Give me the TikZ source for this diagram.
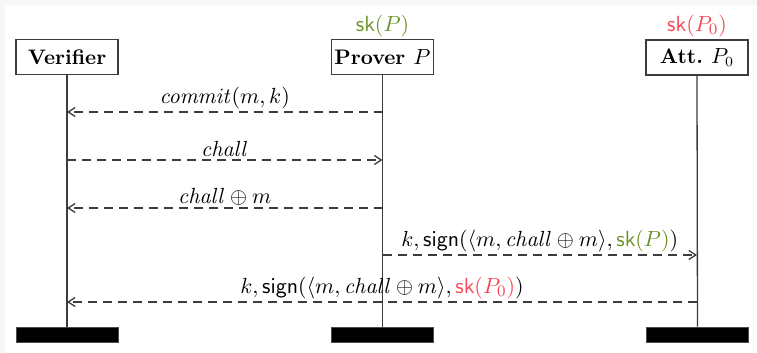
\documentclass[tikz,border=0pt]{standalone}
\usepackage{amsmath}
\usetikzlibrary{arrows.meta}
\definecolor{skgreen}{RGB}{107,146,40}
\definecolor{skred}{RGB}{250,70,85}
\definecolor{linegray}{RGB}{60,60,60}
\begin{document}
\begin{tikzpicture}[x=0.5pt,y=-0.5pt,
  actor/.style={draw=linegray,line width=0.7pt,fill=white,minimum width=51pt,minimum height=17.5pt,inner sep=0pt,font=\fontsize{10.5}{12}\selectfont\bfseries},
  life/.style={draw=linegray,line width=0.65pt},
  endbar/.style={fill=black,draw=black!70,line width=0.3pt,minimum width=51pt,minimum height=7.5pt,inner sep=0pt},
  msg/.style={draw=linegray,dash pattern=on 4.5pt off 3pt,line width=0.65pt,-{Straight Barb[length=3.5pt,width=4.5pt]}},
  lbl/.style={inner sep=1.2pt,anchor=south,font=\fontsize{11}{13}\selectfont},
  sklbl/.style={anchor=south,inner sep=1pt,font=\fontsize{11}{13}\selectfont}]
\useasboundingbox (0,0) rectangle (757,353);
\fill[gray!6] (0,0) rectangle (757,353);
\fill[white] (5,5) rectangle (757,353);
% actors
\node[actor] (V) at (67,57) {Verifier};
\node[actor] (P) at (382.5,57) {Prover $P$};
\node[actor] (A) at (697,57.5) {Att.\ $P_0$};
\node[sklbl,text=skgreen] (skP) at (382.5,39) {$\mathsf{sk}(P)$};
\node[sklbl,text=skred] (skA) at (697,39) {$\mathsf{sk}(P_0)$};
% end bars
\node[endbar] (Vb) at (67,334.5) {};
\node[endbar] (Pb) at (382.5,334.5) {};
\node[endbar] (Ab) at (697.5,334.5) {};
% lifelines
\draw[life] (V.south) -- (Vb.north);
\draw[life] (P.south) -- (Pb.north);
\draw[life] (A.south) -- (Ab.north);
% message coordinates
\coordinate (v1) at (V.south |- 0,112); \coordinate (p1) at (P.south |- 0,112);
\coordinate (v2) at (V.south |- 0,160); \coordinate (p2) at (P.south |- 0,160);
\coordinate (v3) at (V.south |- 0,208); \coordinate (p3) at (P.south |- 0,208);
\coordinate (p4) at (P.south |- 0,255); \coordinate (a4) at (A.south |- 0,255);
\coordinate (v5) at (V.south |- 0,302); \coordinate (a5) at (A.south |- 0,302);
\draw[msg] (p1) -- node[lbl] {$\mathit{commit}(m,k)$} (v1);
\draw[msg] (v2) -- node[lbl] {$\mathit{chall}$} (p2);
\draw[msg] (p3) -- node[lbl] {$\mathit{chall}\oplus m$} (v3);
\draw[msg] (p4) -- node[lbl] {$k,\mathsf{sign}(\langle m,\mathit{chall}\oplus m\rangle,{\color{skgreen}\mathsf{sk}(P)})$} (a4);
\draw[msg] (a5) -- node[lbl] {$k,\mathsf{sign}(\langle m,\mathit{chall}\oplus m\rangle,{\color{skred}\mathsf{sk}(P_0)})$} (v5);
\end{tikzpicture}
\end{document}
